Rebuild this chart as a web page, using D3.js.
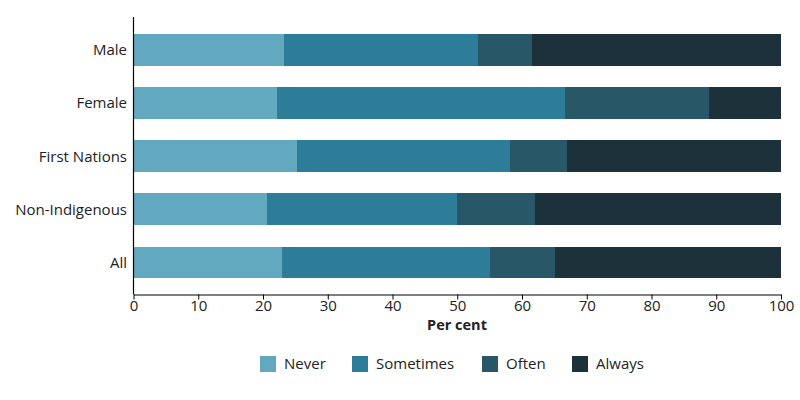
<!DOCTYPE html>
<html><head><meta charset="utf-8">
<script src="https://cdn.jsdelivr.net/npm/d3@7"></script>
<style>body{margin:0;background:#fff}text{font-family:"Open Sans",sans-serif;fill:#222}</style>
</head><body><svg id="c" width="800" height="400"></svg>
<script>
const categories = ["Male","Female","First Nations","Non-Indigenous","All"];
const seriesNames = ["Never","Sometimes","Often","Always"];
const never     = [23.2, 22.1, 25.2, 20.6, 23.0];
const sometimes = [30.0, 44.5, 32.9, 29.3, 32.0];
const often     = [8.3, 22.3, 8.8, 12.1, 10.1];
const always    = [38.5, 11.1, 33.1, 38.0, 34.9];
const colors = ["#62a9bf","#2e7d98","#285767","#1c313a"];
const xTicks = [0,10,20,30,40,50,60,70,80,90,100];

const svg = d3.select("#c");
const x = d3.scaleLinear().domain([0,100]).range([133.5,781]);
const y = d3.scaleBand().domain(categories).range([23.5,289]).paddingInner(0.4).paddingOuter(0.2);

const rows = categories.map((c,i)=>({cat:c, Never:never[i], Sometimes:sometimes[i], Often:often[i], Always:always[i]}));
const stack = d3.stack().keys(seriesNames)(rows);

svg.append("g").selectAll("g").data(stack).join("g")
  .attr("fill",(d,i)=>colors[i])
  .selectAll("rect").data(d=>d).join("rect")
  .attr("x",d=>x(d[0])).attr("width",d=>x(d[1])-x(d[0]))
  .attr("y",d=>y(d.data.cat)).attr("height",y.bandwidth())
  .attr("shape-rendering","crispEdges");

svg.append("line").attr("x1",133.5).attr("x2",133.5).attr("y1",17).attr("y2",294.5)
  .attr("stroke","#000").attr("stroke-width",1.2);
svg.append("g").selectAll("text").data(categories).join("text")
  .attr("x",127).attr("y",d=>y(d)+y.bandwidth()/2).attr("dy","0.35em")
  .attr("text-anchor","end").attr("font-size",15).text(d=>d);

const xa = svg.append("g").attr("transform","translate(0,294.5)")
  .call(d3.axisBottom(x).tickValues(xTicks).tickSize(5).tickSizeOuter(0));
xa.select(".domain").attr("stroke","#000").attr("stroke-width",1.2);
xa.selectAll(".tick line").attr("stroke","#000");
xa.selectAll(".tick text").attr("font-size",15).attr("font-family","Open Sans").attr("fill","#222")
  .attr("y",3).attr("dy","0.9em");

svg.append("text").attr("x",457).attr("y",330).attr("text-anchor","middle")
  .attr("font-size",14.5).attr("font-weight","bold").text("Per cent");

const legX = [260,352,482,572];
const lg = svg.append("g").selectAll("g").data(seriesNames).join("g")
  .attr("transform",(d,i)=>`translate(${legX[i]},356)`);
lg.append("rect").attr("width",16).attr("height",16).attr("fill",(d,i)=>colors[i]);
lg.append("text").attr("x",24).attr("y",8).attr("dy","0.35em").attr("font-size",15).text(d=>d);
</script></body></html>
